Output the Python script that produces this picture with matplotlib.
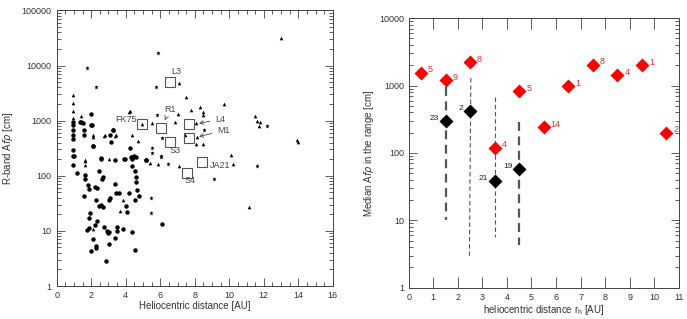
import numpy as np
import matplotlib
matplotlib.use('Agg')
import matplotlib.pyplot as plt
from matplotlib.ticker import FixedLocator, NullFormatter, MultipleLocator

plt.rc('font', family=['Liberation Sans', 'DejaVu Sans'], size=6.5)

# ---- left panel data (heliocentric distance [AU], Afrho [cm]) ----
circ_x = [0.96, 0.96, 0.96, 0.96, 0.96, 0.96, 0.96, 0.96, 1.0, 1.36, 1.4, 1.54, 1.56, 1.56,
          1.97, 1.97, 2.04, 2.08, 2.08, 2.56, 3.27, 3.14, 3.29, 3.10, 3.91, 4.24, 4.39, 4.45,
          4.5, 4.39, 5.2, 2.56, 3.37, 3.95, 4.3, 4.45, 4.6, 5.2, 6.1,
          1.16, 1.64, 1.64, 1.79, 1.85, 1.56, 2.23, 2.33, 2.43, 2.6, 2.66, 3.37, 3.10, 3.04,
          3.43, 3.62, 4.2, 4.0, 4.06, 2.25, 1.94, 1.89, 2.43, 2.56, 2.66, 2.31, 2.23, 1.75,
          1.89, 2.75, 2.89, 2.95, 3.04, 3.52, 3.48, 3.87, 4.39, 2.08, 3.35, 3.04, 2.27, 2.27,
          2.0, 4.53, 2.85, 4.58, 4.58, 4.68, 4.55, 4.78, 4.55]
circ_y = [960, 830, 680, 550, 460, 295, 230, 158, 224, 960, 960, 910, 680, 540,
          1310, 850, 830, 347, 353, 200, 680, 415, 680, 540, 200, 316, 205, 215,
          230, 150, 190, 208, 195, 200, 215, 220, 215, 195, 13.2,
          112, 105, 89, 68, 57, 43, 62, 59, 120, 89, 95, 72, 40, 36,
          48, 48, 48, 28, 22, 36, 21, 17, 28, 29, 27, 15, 13, 10.5,
          11.5, 12, 10, 9, 9.6, 12, 9.8, 10.8, 9.4, 7, 7.3, 5.9, 5.3, 4.8,
          4.4, 4.5, 2.9, 95, 78, 55, 36, 43, 120]

tri_x = [0.96, 0.96, 0.96, 0.96, 1.4, 1.65, 1.65, 1.62, 2.08, 2.12, 2.75, 2.79, 3.04,
         3.4, 3.43, 4.2, 4.24, 4.39, 4.74, 4.97, 5.51, 5.43, 5.88, 7.07, 7.09, 7.51,
         7.0, 7.8, 8.28, 8.5, 8.5, 9.67, 6.88, 8.09, 8.13, 7.44, 8.1, 8.5, 10.08,
         10.2, 11.17, 11.5, 11.6, 11.7, 11.8, 13.95, 13.99, 13.0, 3.87, 3.66, 2.12]
tri_y = [2940, 2130, 1520, 1100, 1230, 195, 158, 188, 540, 510, 535, 540, 200,
         535, 560, 1450, 1500, 560, 430, 860, 890, 170, 165, 150, 4800, 2650,
         1320, 1560, 1790, 1430, 1250, 2000, 950, 890, 510, 560, 380, 380, 240,
         163, 27.5, 1200, 1000, 810, 950, 445, 410, 31600, 37, 23, 11]

star_x = [1.73, 2.27, 5.87, 5.78, 5.82, 5.5, 5.5, 6.1, 6.06, 5.49, 5.45, 6.45, 6.07,
          9.11, 11.6, 8.51, 12.2]
star_y = [9000, 4000, 17000, 4150, 1260, 316, 263, 480, 230, 39, 21, 165, 215,
          87, 150, 680, 815]

sq_names = ['L3', 'FK75', 'R1', 'L4', 'M1', 'S3', 'S4', 'JA21']
sq_x = [6.59, 4.97, 6.07, 7.67, 7.67, 6.55, 7.55, 8.44]
sq_y = [5100, 860, 725, 870, 480, 405, 114, 178]

# ---- right panel data (binned r_h, median Afrho, count) ----
red_x = [0.5, 1.5, 2.5, 3.5, 4.5, 5.5, 6.5, 7.5, 8.5, 9.5, 10.5]
red_y = [1550, 1200, 2200, 120, 830, 240, 970, 2050, 1420, 2030, 200]
red_n = ['5', '9', '8', '4', '5', '14', '1', '8', '4', '1', '2']

blk_x = [1.5, 2.5, 3.5, 4.5]
blk_y = [300, 420, 38, 57]
blk_n = ['23', '2', '21', '19']

# range bars (x_top, x_bottom, top, bottom)
rng_x0 = [1.5, 2.53, 3.5, 4.5]
rng_x1 = [1.5, 2.47, 3.5, 4.5]
rng_top = [950, 1290, 680, 290]
rng_bot = [10.2, 2.8, 5.7, 4.3]
rng_lw = [1.6, 0.8, 0.8, 1.6]

txt = '#333333'

fig = plt.figure(figsize=(6.87, 3.19), dpi=100)
ax1 = fig.add_axes([0.0825, 0.1034, 0.402, 0.864])
ax2 = fig.add_axes([0.595, 0.098, 0.393, 0.845])

def box_ticks(ax):
    ax.tick_params(which='both', direction='in', top=True, right=True,
                   colors='#444444', labelcolor=txt, width=0.6)
    ax.tick_params(which='major', length=6)
    ax.tick_params(which='minor', length=3)
    for s in ax.spines.values():
        s.set_linewidth(0.7)
        s.set_color('#444444')

# left
ax1.plot(circ_x, circ_y, 'o', color='k', ms=3.2, mec='none')
ax1.plot(tri_x, tri_y, '^', color='k', ms=2.6, mec='none')
ax1.plot(star_x, star_y, '*', color='k', ms=3.6, mec='none')
ax1.plot(sq_x, sq_y, 's', mfc='none', mec='#555555', ms=7.5, mew=0.8)
ax1.set_yscale('log')
ax1.set_xlim(0, 16)
ax1.set_ylim(1, 100000)
ax1.xaxis.set_major_locator(MultipleLocator(2))
ax1.xaxis.set_minor_locator(MultipleLocator(0.5))
ax1.set_yticks([1, 10, 100, 1000, 10000, 100000])
ax1.set_yticklabels(['1', '10', '100', '1000', '10000', '100000'])
box_ticks(ax1)
ax1.set_xlabel('Heliocentric distance [AU]', color=txt, fontsize=7, labelpad=1)
ax1.set_ylabel(r'R-band A$f\rho$ [cm]', color=txt, fontsize=7, labelpad=5)

lab = dict(color='#444444', fontsize=6.5)
ax1.text(6.9, 7900, 'L3', ha='center', va='center', **lab)
ax1.text(4.65, 1070, 'FK75', ha='right', va='center', **lab)
ax1.text(6.88, 287, 'S3', ha='center', va='center', **lab)
ax1.text(7.75, 81, 'S4', ha='center', va='center', **lab)
ax1.text(8.9, 155, 'JA21', ha='left', va='center', **lab)
arr = dict(arrowstyle='->', color='#444444', lw=0.6)
ax1.annotate('R1', xy=(6.2, 920), xytext=(6.55, 1620), ha='center', va='center',
             arrowprops=arr, **lab)
ax1.annotate('L4', xy=(8.09, 870), xytext=(9.2, 1070), ha='left', va='center',
             arrowprops=arr, **lab)
ax1.annotate('M1', xy=(8.09, 500), xytext=(9.3, 660), ha='left', va='center',
             arrowprops=arr, **lab)

# right
for x0, x1, t, b, lw in zip(rng_x0, rng_x1, rng_top, rng_bot, rng_lw):
    ax2.plot([x0, x1], [t, b], '--', color='#555555', lw=lw, dashes=(4, 2.5))
ax2.plot(red_x, red_y, 'D', color='#ff0000', ms=6.8, mec='none', zorder=3)
ax2.plot(blk_x, blk_y, 'D', color='k', ms=6.8, mec='none', zorder=3)
for x, y, n in zip(red_x, red_y, red_n):
    ax2.annotate(n, (x, y), xytext=(5, 2), textcoords='offset points',
                 color='#e8302a', fontsize=6.5, ha='left', va='center')
for x, y, n in zip(blk_x, blk_y, blk_n):
    ax2.annotate(n, (x, y), xytext=(-5, 2), textcoords='offset points',
                 color='#222222', fontsize=6, ha='right', va='center')
ax2.set_yscale('log')
ax2.set_xlim(0, 11)
ax2.set_ylim(1, 10000)
ax2.xaxis.set_major_locator(MultipleLocator(1))
ax2.set_yticks([1, 10, 100, 1000, 10000])
ax2.set_yticklabels(['1', '10', '100', '1000', '10000'])
box_ticks(ax2)
ax2.tick_params(axis='x', which='major', length=8)
ax2.set_xlabel(r'heliocentric distance r$_\mathregular{h}$ [AU]', color=txt, fontsize=7, labelpad=1)
ax2.set_ylabel(r'Median A$f\rho$ in the range [cm]', color=txt, fontsize=7, labelpad=2)

fig.savefig('out.png', dpi=100)
